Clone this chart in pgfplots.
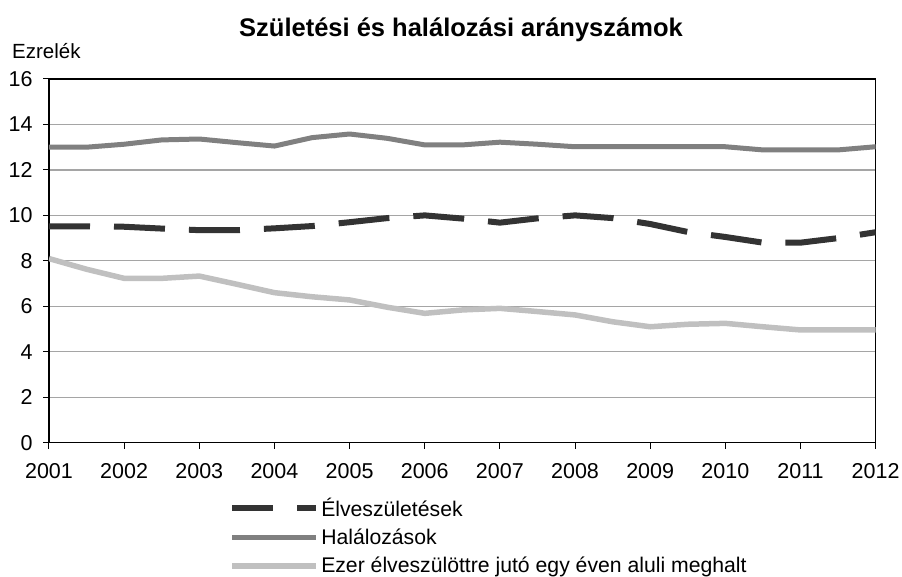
\documentclass[border=0pt]{standalone}
\usepackage{fontspec}
\setmainfont{Liberation Sans}
\usepackage{pgfplots}
\pgfplotsset{compat=1.18}
\definecolor{births}{RGB}{51,51,51}
\definecolor{deaths}{RGB}{128,128,128}
\definecolor{infant}{RGB}{192,192,192}
\definecolor{gridgray}{RGB}{165,165,165}

\begin{document}
\begin{tikzpicture}
\useasboundingbox (-49pt,-134.3pt) rectangle (853pt,442.7pt);
\begin{axis}[
    scale only axis,
    width=826.7pt, height=363.7pt,
    xmin=2001, xmax=2012, ymin=0, ymax=16,
    xtick={2001,...,2012}, ytick={0,2,...,16},
    tick pos=left,
    tick align=outside,
    major tick length=6pt,
    tick style={line width=1pt, black},
    axis line style={line width=1.5pt},
    ymajorgrids,
    major grid style={gridgray, line width=1.2pt},
    ticklabel style={font=\fontsize{21.5}{25}\selectfont},
    xticklabel style={yshift=-11pt},
    yticklabel style={xshift=-7pt},
    /pgf/number format/assume math mode=true,
    /pgf/number format/1000 sep={},
    legend image code/.code={\draw[#1] (0pt,0pt) -- (84pt,0pt);},
    legend style={at={(axis description cs:0.2178,-0.145)}, anchor=north west,
        draw=none, fill=none, inner xsep=0pt, inner ysep=0pt,
        font=\fontsize{21.2}{25}\selectfont, row sep=7.3pt,
        nodes={inner sep=2pt}},
    legend cell align=left,
]
\addplot[births, line width=6pt, dash pattern=on 51pt off 24pt, dash phase=10pt] coordinates {
    (2001,9.52) (2001.5,9.52) (2002,9.5) (2002.5,9.42) (2003,9.35) (2003.5,9.35)
    (2004,9.43) (2004.5,9.53) (2005,9.7) (2005.5,9.88) (2006,10.0) (2006.5,9.86)
    (2007,9.68) (2007.5,9.87) (2008,10.0) (2008.5,9.88) (2009,9.62) (2009.5,9.27)
    (2010,9.05) (2010.5,8.8) (2011,8.8) (2011.5,9.0) (2012,9.26)
};
\addlegendentry{Élveszületések}
\addplot[deaths, line width=5pt, line join=round] coordinates {
    (2001,13.0) (2001.5,13.0) (2002,13.13) (2002.5,13.32) (2003,13.36) (2003.5,13.2)
    (2004,13.05) (2004.5,13.42) (2005,13.58) (2005.5,13.39) (2006,13.1) (2006.5,13.1)
    (2007,13.22) (2007.5,13.13) (2008,13.02) (2008.5,13.02) (2009,13.02) (2009.5,13.02)
    (2010,13.02) (2010.5,12.88) (2011,12.88) (2011.5,12.88) (2012,13.02)
};
\addlegendentry{Halálozások}
\addplot[infant, line width=5.5pt, line join=round] coordinates {
    (2001,8.1) (2001.5,7.63) (2002,7.23) (2002.5,7.23) (2003,7.33) (2003.5,6.97)
    (2004,6.6) (2004.5,6.42) (2005,6.28) (2005.5,5.96) (2006,5.69) (2006.5,5.84)
    (2007,5.91) (2007.5,5.77) (2008,5.62) (2008.5,5.32) (2009,5.1) (2009.5,5.21)
    (2010,5.25) (2010.5,5.1) (2011,4.96) (2011.5,4.96) (2012,4.96)
};
\addlegendentry{Ezer élveszülöttre jutó egy éven aluli meghalt}
\end{axis}
\node[anchor=base, font=\fontsize{25.5}{30}\selectfont\bfseries] at (412pt,405.7pt) {Születési és halálozási arányszámok};
\node[anchor=base west, inner sep=0pt, font=\fontsize{20.5}{24}\selectfont] at (-37pt,384.2pt) {Ezrelék};
\end{tikzpicture}
\end{document}
